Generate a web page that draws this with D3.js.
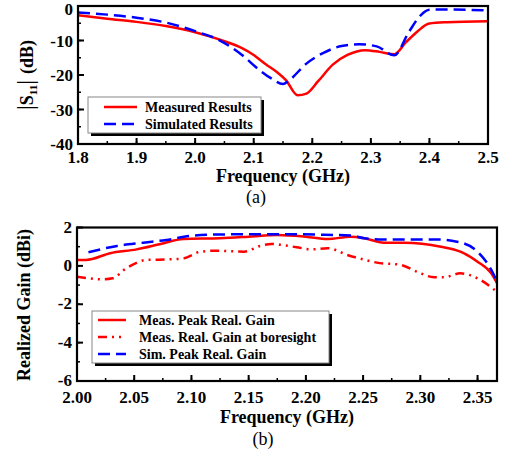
<!DOCTYPE html>
<html><head><meta charset="utf-8">
<script src="https://cdn.jsdelivr.net/npm/d3@7"></script>
<style>
body{margin:0;background:#fff;}
svg text{font-family:"Liberation Serif","Tinos","Times New Roman",serif;}
</style></head>
<body><svg id="c" width="514" height="456"></svg>
<script>
// Panel (a) data
const freqMeasA = [1.80,1.85,1.90,1.95,2.00,2.05,2.08,2.10,2.12,2.14,2.155,2.175,2.19,2.21,2.235,2.26,2.29,2.315,2.34,2.36,2.38,2.40,2.43,2.50];
const s11Meas   = [-2.7,-3.7,-4.6,-5.8,-7.6,-10.2,-12.2,-14.2,-16.8,-19.2,-21.5,-25.9,-25.4,-21.8,-17.0,-14.2,-12.8,-13.3,-14.0,-10.5,-7.3,-5.1,-4.7,-4.4];
const freqSimA  = [1.80,1.85,1.90,1.95,2.00,2.04,2.08,2.11,2.13,2.15,2.16,2.19,2.22,2.25,2.28,2.31,2.34,2.365,2.385,2.40,2.43,2.50];
const s11Sim    = [-1.9,-2.5,-3.4,-4.8,-7.3,-9.8,-14.2,-18.6,-21.0,-22.6,-21.6,-16.7,-13.5,-11.6,-11.1,-11.7,-14.3,-7.5,-2.7,-1.1,-1.0,-1.3];
const xTicksA = [1.8,1.9,2.0,2.1,2.2,2.3,2.4,2.5];
const yTicksA = [0,-10,-20,-30,-40];
const legendA = ["Measured Results","Simulated Results"];

// Panel (b) data
const freqPeak = [2.000,2.008,2.029,2.052,2.073,2.093,2.125,2.15,2.175,2.20,2.219,2.239,2.251,2.268,2.286,2.318,2.335,2.35,2.362,2.367];
const gainPeak = [0.31,0.31,0.66,0.86,1.14,1.40,1.44,1.52,1.61,1.52,1.40,1.52,1.44,1.21,1.21,1.00,0.74,0.22,-0.39,-0.90];
const freqBore = [2.000,2.023,2.031,2.043,2.061,2.081,2.093,2.108,2.122,2.146,2.160,2.170,2.179,2.192,2.204,2.219,2.226,2.236,2.243,2.262,2.283,2.297,2.312,2.321,2.335,2.350,2.365];
const gainBore = [-0.56,-0.70,-0.65,-0.13,0.31,0.34,0.39,0.74,0.79,0.74,1.04,1.14,1.09,0.97,0.86,0.92,0.83,0.57,0.45,0.17,0.05,-0.30,-0.59,-0.59,-0.39,-0.65,-1.26];
const freqSimB = [2.010,2.035,2.058,2.078,2.099,2.119,2.15,2.18,2.21,2.24,2.251,2.268,2.312,2.332,2.350,2.362,2.367];
const gainSimB = [0.71,1.04,1.21,1.35,1.56,1.63,1.65,1.65,1.63,1.58,1.44,1.38,1.38,1.26,0.74,-0.21,-0.82];
const xTicksB = [2.00,2.05,2.10,2.15,2.20,2.25,2.30,2.35];
const yTicksB = [2,0,-2,-4,-6];
const legendB = ["Meas. Peak Real. Gain","Meas. Real. Gain at boresight","Sim. Peak Real. Gain"];

const svg = d3.select("#c");
const RED="#ff0000", BLUE="#0000ff";

function panel(o){
  const x = d3.scaleLinear().domain(o.xd).range([o.x0,o.x1]);
  const y = d3.scaleLinear().domain(o.yd).range([o.y1,o.y0]);
  const g = svg.append("g");
  const xMinor = d3.range(o.xd[0], o.xd[1]+1e-9, o.xMinorStep);
  const yMinor = d3.range(o.yd[0], o.yd[1]+1e-9, o.yMinorStep);
  g.selectAll(".xm").data(xMinor).join("line")
    .attr("x1",d=>x(d)).attr("x2",d=>x(d)).attr("y1",o.y1).attr("y2",o.y1-3)
    .attr("stroke","#000").attr("stroke-width",1.5);
  g.selectAll(".ym").data(yMinor).join("line")
    .attr("x1",o.x0).attr("x2",o.x0+3).attr("y1",d=>y(d)).attr("y2",d=>y(d))
    .attr("stroke","#000").attr("stroke-width",1.5);
  g.selectAll(".xM").data(o.xt).join("line")
    .attr("x1",d=>x(d)).attr("x2",d=>x(d)).attr("y1",o.y1).attr("y2",o.y1-6)
    .attr("stroke","#000").attr("stroke-width",2);
  g.selectAll(".yM").data(o.yt).join("line")
    .attr("x1",o.x0).attr("x2",o.x0+6).attr("y1",d=>y(d)).attr("y2",d=>y(d))
    .attr("stroke","#000").attr("stroke-width",2);
  g.selectAll(".xl").data(o.xt).join("text")
    .attr("x",d=>x(d)).attr("y",o.y1+o.xlOff).attr("text-anchor","middle")
    .attr("font-size",17).attr("font-weight","bold").text(d=>d3.format(o.xf)(d));
  g.selectAll(".yl").data(o.yt).join("text")
    .attr("x",o.x0-5).attr("y",d=>Math.max(y(d)+(o.yOff||5.5),14.5)).attr("text-anchor","end")
    .attr("font-size",17).attr("font-weight","bold").text(d=>d);
  const line = d3.line().x(d=>x(d[0])).y(d=>y(d[1])).curve(d3.curveMonotoneX);
  const clipId = "clip"+o.id;
  svg.append("clipPath").attr("id",clipId).append("rect")
    .attr("x",o.x0).attr("y",o.y0).attr("width",o.x1-o.x0).attr("height",o.y1-o.y0);
  o.series.forEach(s=>{
    g.append("path").attr("d",line(d3.zip(s.x,s.y))).attr("fill","none")
      .attr("stroke",s.c).attr("stroke-width",2.5).attr("stroke-dasharray",s.dash||null)
      .attr("clip-path","url(#"+clipId+")");
  });
  g.append("rect").attr("x",o.x0).attr("y",o.y0).attr("width",o.x1-o.x0).attr("height",o.y1-o.y0)
    .attr("fill","none").attr("stroke","#000").attr("stroke-width",2.2);
  const L=o.leg;
  g.append("rect").attr("x",L.x+3).attr("y",L.y+3).attr("width",L.w).attr("height",L.h).attr("fill","#000");
  g.append("rect").attr("x",L.x).attr("y",L.y).attr("width",L.w).attr("height",L.h).attr("fill","#fff")
    .attr("stroke","#888").attr("stroke-width",1);
  o.series.forEach((s,i)=>{
    const yy=L.y+L.r0+i*L.dy;
    g.append("line").attr("x1",L.lx0).attr("x2",L.lx1).attr("y1",yy).attr("y2",yy)
      .attr("stroke",s.c).attr("stroke-width",2.5).attr("stroke-dasharray",s.dash||null);
    g.append("text").attr("x",L.tx).attr("y",yy+4.5).attr("font-size",L.fs).attr("font-weight","bold").text(s.name);
  });
  g.append("text").attr("x",(o.x0+o.x1)/2).attr("y",o.y1+o.tOff).attr("text-anchor","middle")
    .attr("font-size",18).attr("font-weight","bold").text("Frequency (GHz)");
  return {x,y,g};
}

const A = panel({id:"a",xd:[1.8,2.5],yd:[-40,0],x0:78,x1:488,y0:6,y1:144,yOff:6,xlOff:19,tOff:38,
  xMinorStep:0.05,yMinorStep:5,xt:xTicksA,yt:yTicksA,xf:".1f",
  series:[{x:freqMeasA,y:s11Meas,c:RED,name:legendA[0]},
          {x:freqSimA,y:s11Sim,c:BLUE,dash:"12,6",name:legendA[1]}],
  leg:{x:88,y:97,w:173,h:36,r0:10,dy:17,lx0:104,lx1:137,tx:145,fs:14}});
A.g.append("text").attr("transform","translate(33,75) rotate(-90)").attr("text-anchor","middle")
  .attr("font-size",18).attr("font-weight","bold")
  .call(t=>{t.append("tspan").attr("font-weight","normal").attr("font-size",24).text("|");
            t.append("tspan").text("S");
            t.append("tspan").attr("font-size",11).attr("dy",4).text("11");
            t.append("tspan").attr("dy",-4).attr("font-weight","normal").attr("font-size",24).text("| ");
            t.append("tspan").text("(dB)");});
svg.append("text").attr("x",256).attr("y",203).attr("text-anchor","middle").attr("font-size",18).text("(a)");

const B = panel({id:"b",xd:[2.0,2.367],yd:[-6,2],x0:77,x1:497,y0:227.5,y1:381,yOff:5,xlOff:22,tOff:42,
  xMinorStep:0.025,yMinorStep:1,xt:xTicksB,yt:yTicksB,xf:".2f",
  series:[{x:freqPeak,y:gainPeak,c:RED,name:legendB[0]},
          {x:freqBore,y:gainBore,c:RED,dash:"9,5,2,5,2,5",name:legendB[1]},
          {x:freqSimB,y:gainSimB,c:BLUE,dash:"12,6",name:legendB[2]}],
  leg:{x:92,y:311,w:237,h:52,r0:9,dy:17,lx0:98,lx1:126,tx:139,fs:14}});
B.g.append("text").attr("transform","translate(30,305) rotate(-90)").attr("text-anchor","middle")
  .attr("font-size",18).attr("font-weight","bold").text("Realized Gain (dBi)");
svg.append("text").attr("x",263).attr("y",445).attr("text-anchor","middle").attr("font-size",18).text("(b)");
</script></body></html>
